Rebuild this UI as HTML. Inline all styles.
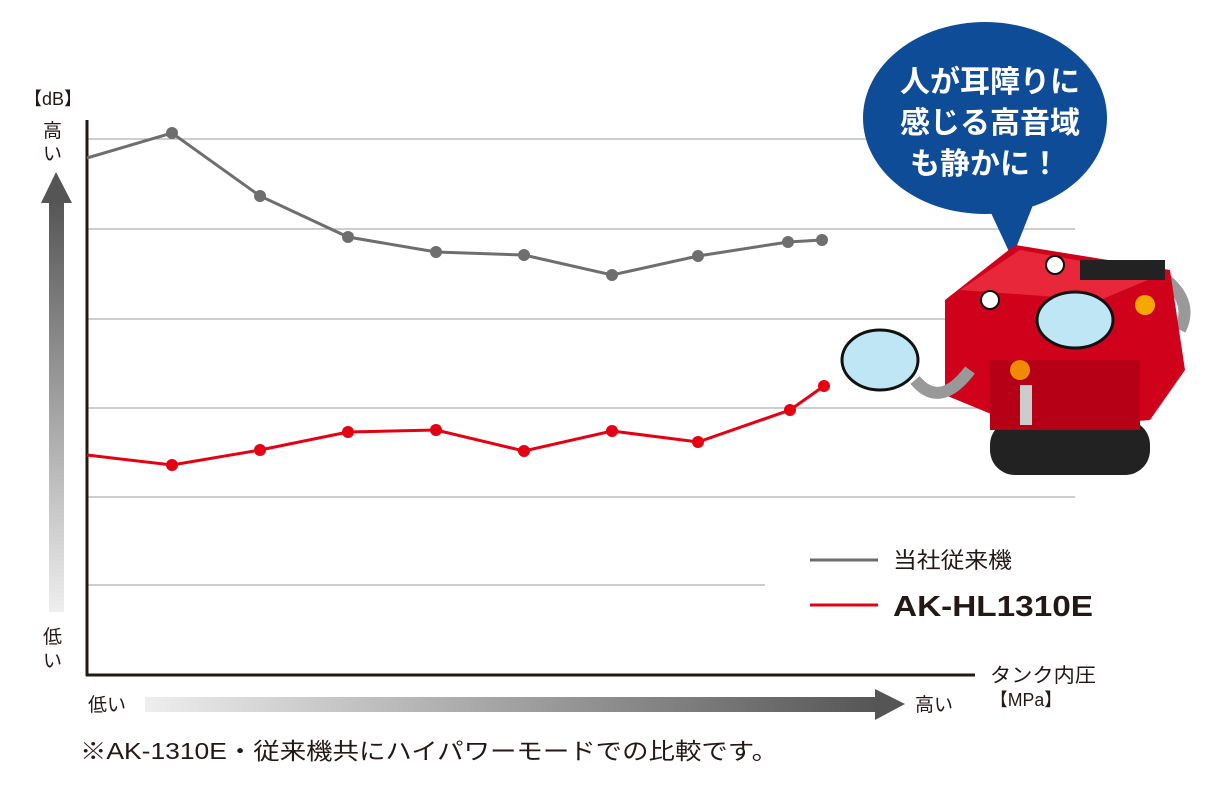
<!DOCTYPE html>
<html><head><meta charset="utf-8"><style>
body{margin:0;background:#fff;width:1220px;height:786px;overflow:hidden;font-family:"Liberation Sans","Noto Sans CJK JP",sans-serif}
</style></head><body>
<svg width="1220" height="786" xmlns="http://www.w3.org/2000/svg" font-family="Liberation Sans, Noto Sans CJK JP, sans-serif">
<defs>
<linearGradient id="vg" x1="0" y1="1" x2="0" y2="0"><stop offset="0" stop-color="#eeeeee"/><stop offset="1" stop-color="#555"/></linearGradient>
<linearGradient id="hg" x1="0" y1="0" x2="1" y2="0"><stop offset="0" stop-color="#eeeeee"/><stop offset="1" stop-color="#555"/></linearGradient>
</defs>
<g stroke="#b0b0b0" stroke-width="1.3">
<line x1="88" y1="139" x2="1075" y2="139"/><line x1="88" y1="229" x2="1075" y2="229"/>
<line x1="88" y1="319" x2="1075" y2="319"/><line x1="88" y1="408" x2="1075" y2="408"/>
<line x1="88" y1="497" x2="1075" y2="497"/><line x1="88" y1="585" x2="765" y2="585"/>
</g>
<line x1="87" y1="120" x2="87" y2="676" stroke="#231815" stroke-width="3"/>
<line x1="86" y1="675" x2="975" y2="675" stroke="#231815" stroke-width="3"/>
<text x="24" y="105" font-size="18" fill="#231815">【dB】</text>
<text x="43" y="137" font-size="19" fill="#231815">高</text><text x="43" y="160" font-size="19" fill="#231815">い</text>
<text x="43" y="643" font-size="19" fill="#231815">低</text><text x="43" y="667" font-size="19" fill="#231815">い</text>
<rect x="49" y="200" width="15" height="412" fill="url(#vg)"/>
<polygon points="41,203 56,172 72,203" fill="#555"/>
<text x="88" y="711" font-size="19" fill="#231815">低い</text>
<rect x="145" y="697" width="735" height="15" fill="url(#hg)"/>
<polygon points="875,689 905,704 875,720" fill="#555"/>
<text x="915" y="711" font-size="19" fill="#231815">高い</text>
<text x="990" y="682" font-size="20" fill="#231815" textLength="106" lengthAdjust="spacingAndGlyphs">タンク内圧</text>
<text x="990" y="706" font-size="18" fill="#231815" textLength="72" lengthAdjust="spacingAndGlyphs">【MPa】</text>
<text x="80" y="759" font-size="23" fill="#231815" textLength="698" lengthAdjust="spacingAndGlyphs">※AK-1310E・従来機共にハイパワーモードでの比較です。</text>
<polyline fill="none" stroke="#6e6e6e" stroke-width="3" points="87,158 172,133 260,196 348,237 436,252 524,255 612,275 698,256 788,242 822,240"/>
<g fill="#6e6e6e"><circle cx="172" cy="133" r="6"/><circle cx="260" cy="196" r="6"/><circle cx="348" cy="237" r="6"/><circle cx="436" cy="252" r="6"/><circle cx="524" cy="255" r="6"/><circle cx="612" cy="275" r="6"/><circle cx="698" cy="256" r="6"/><circle cx="788" cy="242" r="6"/><circle cx="822" cy="240" r="6"/></g>
<polyline fill="none" stroke="#e50012" stroke-width="3" points="87,455 172,465 260,450 348,432 436,430 524,451 612,431 698,442 790,410 824,386"/>
<g fill="#e50012"><circle cx="172" cy="465" r="6"/><circle cx="260" cy="450" r="6"/><circle cx="348" cy="432" r="6"/><circle cx="436" cy="430" r="6"/><circle cx="524" cy="451" r="6"/><circle cx="612" cy="431" r="6"/><circle cx="698" cy="442" r="6"/><circle cx="790" cy="410" r="6"/><circle cx="824" cy="386" r="6"/></g>
<line x1="810" y1="560" x2="878" y2="560" stroke="#6e6e6e" stroke-width="3"/>
<text x="893" y="568" font-size="22" fill="#231815" textLength="119" lengthAdjust="spacingAndGlyphs">当社従来機</text>
<line x1="810" y1="605" x2="878" y2="605" stroke="#e50012" stroke-width="3"/>
<text x="893" y="616" font-size="29" font-weight="bold" fill="#231815" textLength="200" lengthAdjust="spacingAndGlyphs">AK-HL1310E</text>
<ellipse cx="985" cy="118" rx="122" ry="96" fill="#0f4c97"/>
<polygon points="985,200 1035,200 1012,258" fill="#0f4c97"/>
<g font-size="30" font-weight="bold" fill="#fff" text-anchor="middle">
<text x="990" y="92">人が耳障りに</text><text x="990" y="133">感じる高音域</text><text x="985" y="174">も静かに！</text></g>
<path d="M1160,275 Q1195,300 1180,330" fill="none" stroke="#999" stroke-width="12"/>
<rect x="990" y="420" width="160" height="55" rx="25" fill="#222"/>
<polygon points="945,300 1015,245 1170,270 1185,370 1150,420 1030,430 945,395" fill="#d0021b"/>
<polygon points="960,290 1020,250 1160,275 1100,300" fill="#e8283a"/>
<rect x="990" y="360" width="150" height="70" fill="#b50016"/>
<rect x="1080" y="260" width="85" height="20" fill="#222"/>
<circle cx="1145" cy="305" r="10" fill="#f5a800"/>
<circle cx="1020" cy="370" r="10" fill="#f08a00"/>
<ellipse cx="1075" cy="320" rx="38" ry="28" fill="#bfe6f5" stroke="#111" stroke-width="3"/>
<ellipse cx="880" cy="360" rx="38" ry="30" fill="#bfe6f5" stroke="#111" stroke-width="3"/>
<path d="M915,380 Q940,410 970,370" fill="none" stroke="#999" stroke-width="12"/>
<circle cx="990" cy="300" r="9" fill="#fff" stroke="#111" stroke-width="2"/>
<circle cx="1055" cy="265" r="9" fill="#fff" stroke="#111" stroke-width="2"/>
<rect x="1020" y="385" width="12" height="40" fill="#ccc"/>
</svg>
</body></html>
